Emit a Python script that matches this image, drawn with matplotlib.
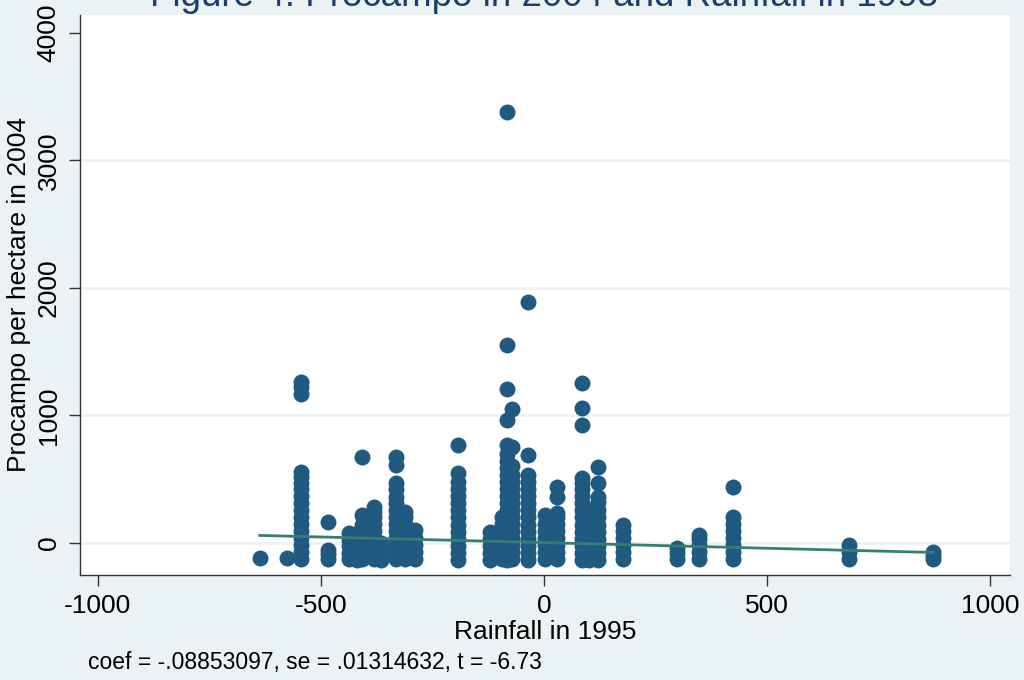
import numpy as np
import matplotlib.pyplot as plt

plt.rcParams['font.family'] = ['Liberation Sans', 'DejaVu Sans']
plt.rcParams['axes.unicode_minus'] = False

# rainfall deviation (x) of each column of observations
col_x = [-637, -576, -545, -484, -437, -420, -408, -381, -365, -332, -312, -290,
         -193, -121, -95, -83, -72, -36, 2, 29, 85, 102, 121, 177,
         298, 348, 424, 684, 872]

# procampo per hectare (y) values in each column
col_y = [
    [-120],
    [-120],
    [-125, -70, -15, 40, 95, 150, 205, 260, 315, 370, 420, 470, 520, 557, 1165, 1225, 1265],
    [-125, -90, -55, 165],
    [-125, -75, -25, 25, 78],
    [-130, -80, -30, 20, 60],
    [-125, -75, -25, 25, 75, 118, 141, 220, 677],
    [-125, -70, -15, 40, 95, 150, 200, 240, 282],
    [-130, -85, -40, 0],
    [-125, -70, -15, 40, 95, 150, 205, 260, 310, 360, 420, 470, 612, 677],
    [-125, -70, -15, 40, 95, 150, 200, 243],
    [-125, -70, -15, 40, 102],
    [-130, -75, -20, 35, 90, 145, 200, 255, 310, 365, 420, 475, 549, 770],
    [-130, -75, -20, 35, 86],
    [-125, -70, -15, 40, 95, 150, 204],
    [-130, -75, -20, 35, 90, 145, 200, 255, 310, 365, 420, 475, 530, 585, 640, 700, 769,
     965, 1208, 1553, 3380],
    [-125, -70, -15, 40, 95, 150, 205, 260, 315, 370, 425, 480, 535, 600, 753, 1051],
    [-130, -75, -20, 35, 90, 145, 200, 255, 310, 365, 420, 475, 533, 690, 1890],
    [-125, -70, -15, 40, 95, 150, 220],
    [-125, -70, -15, 40, 95, 150, 200, 235, 361, 439],
    [-130, -75, -20, 35, 90, 145, 200, 255, 310, 365, 420, 470, 510, 925, 1059, 1255],
    [-130, -75, -20, 35, 90, 145, 200, 260],
    [-130, -75, -20, 35, 90, 145, 200, 255, 320, 361, 470, 596],
    [-125, -70, -15, 40, 95, 141],
    [-125, -80, -39],
    [-125, -70, -15, 30, 63],
    [-125, -70, -15, 40, 95, 150, 204, 439],
    [-125, -70, -16],
    [-125, -100, -71],
]

coef = -0.08853097
intercept = 3.0
note = "coef = -.08853097, se = .01314632, t = -6.73"

xs = []
ys = []
for x, yl in zip(col_x, col_y):
    xs.extend([x] * len(yl))
    ys.extend(yl)

bg = '#eaf2f3'
fig = plt.figure(figsize=(10.24, 6.8), dpi=100, facecolor=bg)
ax = fig.add_axes([80 / 1024, 105 / 680, 930 / 1024, 560 / 680])
ax.set_facecolor('white')

for gy in [0, 1000, 2000, 3000]:
    ax.axhline(gy, color=bg, lw=2, zorder=0)

ax.scatter(xs, ys, s=132, color='#215a80', linewidths=0, zorder=2)

lx = np.array([min(col_x), max(col_x)])
ax.plot(lx, intercept + coef * lx, color='#357f72', lw=2, zorder=3)

ax.set_xlim(-1040, 1045)
ax.set_ylim(-251, 4141)
ax.set_xticks([-1000, -500, 0, 500, 1000])
ax.set_yticks([0, 1000, 2000, 3000, 4000])
ax.tick_params(axis='both', direction='out', length=8, width=1, color='#333333',
               labelsize=19, pad=6)
for lab in ax.get_yticklabels():
    lab.set_rotation(90)
    lab.set_va('center')
for s in ['top', 'right']:
    ax.spines[s].set_visible(False)
for s in ['left', 'bottom']:
    ax.spines[s].set_color('#333333')
    ax.spines[s].set_linewidth(1)

ax.set_xlabel('Rainfall in 1995', fontsize=19, labelpad=1)
ax.set_ylabel('Procampo per hectare in 2004', fontsize=19, labelpad=4)

fig.text(544 / 1024, 1 - 6 / 680, 'Figure 4: Procampo in 2004 and Rainfall in 1995',
         ha='center', va='baseline', fontsize=26.5, color='#1a3f6f')
fig.text(88 / 1024, 1 - 662 / 680, note, ha='left', va='center', fontsize=16.5)

fig.savefig('out.png', dpi=100, facecolor=bg)
